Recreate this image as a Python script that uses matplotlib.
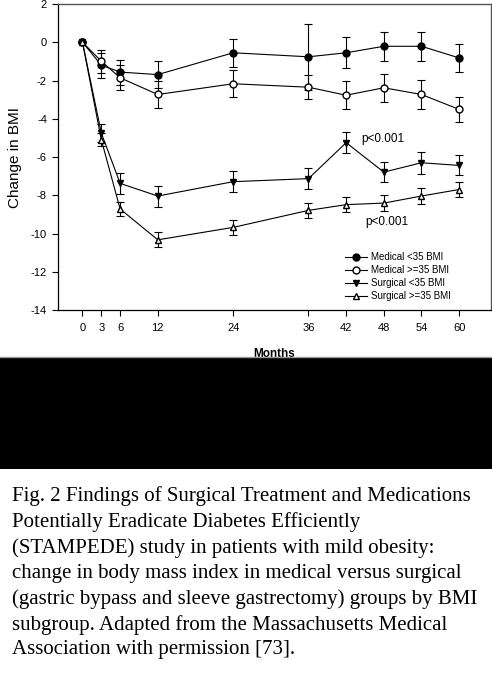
import numpy as np
import matplotlib
matplotlib.use('Agg')
import matplotlib.pyplot as plt
from matplotlib.patches import Rectangle
from matplotlib.lines import Line2D

#%% Data (change in BMI, mean and error)
months = [0, 3, 6, 12, 24, 36, 42, 48, 54, 60]

med_lo = [0, -1.2, -1.56, -1.69, -0.55, -0.76, -0.55, -0.21, -0.21, -0.82]
med_lo_err = [0, 0.65, 0.65, 0.7, 0.72, 1.72, 0.8, 0.77, 0.77, 0.75]

med_hi = [0, -0.99, -1.86, -2.73, -2.17, -2.35, -2.77, -2.38, -2.73, -3.51]
med_hi_err = [0, 0.6, 0.65, 0.7, 0.7, 0.62, 0.72, 0.72, 0.75, 0.65]

sur_lo = [0, -4.75, -7.38, -8.04, -7.29, -7.13, -5.25, -6.79, -6.3, -6.44]
sur_lo_err = [0, 0.45, 0.55, 0.55, 0.55, 0.55, 0.55, 0.53, 0.57, 0.52]

sur_hi = [0, -5.1, -8.72, -10.33, -9.68, -8.79, -8.49, -8.41, -8.04, -7.7]
sur_hi_err = [0, 0.35, 0.37, 0.4, 0.38, 0.39, 0.38, 0.4, 0.4, 0.38]

labels = ['Medical <35 BMI', 'Medical >=35 BMI', 'Surgical <35 BMI', 'Surgical >=35 BMI']
x_ticks = [0, 3, 6, 12, 24, 36, 42, 48, 54, 60]
y_ticks = [2, 0, -2, -4, -6, -8, -10, -12, -14]

caption = ("Fig. 2 Findings of Surgical Treatment and Medications\n"
           "Potentially Eradicate Diabetes Efficiently\n"
           "(STAMPEDE) study in patients with mild obesity:\n"
           "change in body mass index in medical versus surgical\n"
           "(gastric bypass and sleeve gastrectomy) groups by BMI\n"
           "subgroup. Adapted from the Massachusetts Medical\n"
           "Association with permission [73].")

#%% Settings
plt.rcParams['font.family'] = ['Liberation Sans', 'DejaVu Sans']
plt.rcParams['axes.unicode_minus'] = False
lnthikness = 0.8
msize = 5
cap = 3

fig = plt.figure(figsize=(4.92, 6.80), dpi=100)
ax = fig.add_axes([0.1179, 0.5441, 0.8791, 0.4500])

series = [(med_lo, med_lo_err, 'o', 'black'),
          (med_hi, med_hi_err, 'o', 'white'),
          (sur_lo, sur_lo_err, 'v', 'black'),
          (sur_hi, sur_hi_err, '^', 'white')]

handles = []
for n, (vals, errs, mk, face) in enumerate(series):
    cont = ax.errorbar(months, vals, yerr=errs, fmt='-', marker=mk,
                       color='black', mfc=face, mec='black', ms=msize,
                       lw=lnthikness, elinewidth=lnthikness, capsize=cap,
                       capthick=lnthikness, zorder=3 + n)
    handles.append(Line2D([], [], color='black', marker=mk, mfc=face,
                          mec='black', ms=msize, lw=lnthikness))

ax.text(44.4, -5.04, 'p<0.001', fontsize=8.5, va='center', ha='left')
ax.text(45.0, -9.38, 'p<0.001', fontsize=8.5, va='center', ha='left')

ax.set_xlim(-3.9, 65)
ax.set_ylim(-14, 2)
ax.set_xticks(x_ticks)
ax.set_yticks(y_ticks)
ax.tick_params(axis='both', direction='out', length=4, width=0.8,
               labelsize=8, pad=4)
ax.tick_params(axis='x', pad=5)
for side in ['left', 'bottom']:
    ax.spines[side].set_linewidth(0.9)
for side in ['top', 'right']:
    ax.spines[side].set_color('#555555')
    ax.spines[side].set_linewidth(1.0)

ax.set_xlabel('Months', fontsize=8.5, fontweight='bold', labelpad=11)
ax.set_ylabel('Change in BMI', fontsize=11, labelpad=6)

ax.legend(handles, labels, loc='upper left', bbox_to_anchor=(0.664, 0.188),
          frameon=False, fontsize=7, handlelength=2.2, handletextpad=0.5,
          labelspacing=0.3, borderpad=0, borderaxespad=0)

#%% Black band and caption below the chart
fig.patches.append(Rectangle((0, 0.3103), 1, 0.1632, transform=fig.transFigure,
                             facecolor='black', edgecolor='none', zorder=0))
fig.add_artist(Line2D([0, 1], [0.4750, 0.4750], transform=fig.transFigure,
                      color='#999999', lw=1))

fig.text(0.0238, 0.2846, caption, fontsize=15, family='Liberation Serif',
         va='top', ha='left', linespacing=1.41)

fig.savefig('out.png', dpi=100)
